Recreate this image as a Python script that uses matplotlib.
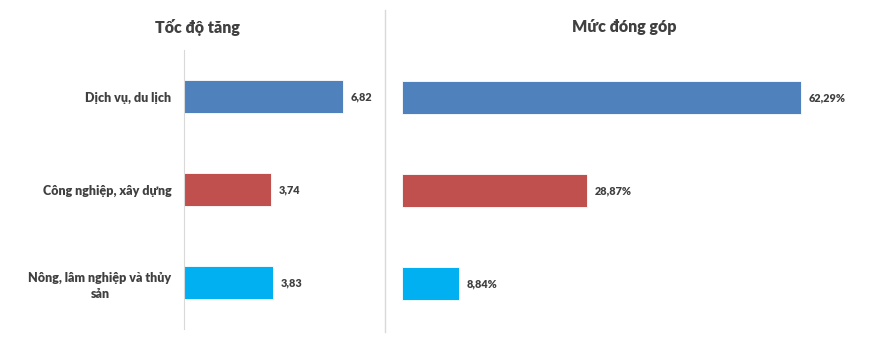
import matplotlib
matplotlib.use("Agg")
import matplotlib.pyplot as plt
from matplotlib.lines import Line2D

plt.rcParams['font.family'] = ['Lato', 'DejaVu Sans']

categories = ["Dịch vụ, du lịch", "Công nghiệp, xây dựng", "Nông, lâm nghiệp và thủy\nsản"]
growth = [6.82, 3.74, 3.83]
growth_labels = ["6,82", "3,74", "3,83"]
contribution = [62.29, 28.87, 8.84]
contribution_labels = ["62,29%", "28,87%", "8,84%"]
colors = ["#4F81BD", "#C0504D", "#00B0F0"]

W, H = 871, 348
fig = plt.figure(figsize=(W / 100, H / 100), dpi=100)
text_color = "#404040"
line_color = "#D9D9D9"
weight = 800


def px_axes(left, top, right, bottom):
    return fig.add_axes([left / W, 1 - bottom / H, (right - left) / W, (bottom - top) / H])


def draw_panel(ax, values, labels, xmax, pad):
    y = list(range(len(values)))
    ax.barh(y, values, height=0.355, color=colors, edgecolor="white", linewidth=0.6)
    ax.set_xlim(0, xmax)
    ax.set_ylim(2.5, -0.5)
    for yi, v, lab in zip(y, values, labels):
        ax.text(v + pad, yi, lab, va="center", ha="left", fontsize=7.8,
                fontweight=weight, color=text_color)
    for s in ["top", "right", "bottom"]:
        ax.spines[s].set_visible(False)
    ax.set_xticks([])
    ax.tick_params(axis="y", length=0)


ax1 = px_axes(184, 50, 380, 329)
draw_panel(ax1, growth, growth_labels, 196 / 23.3, 0.33)
ax1.spines["left"].set_color(line_color)
ax1.set_yticks(range(len(categories)))
ax1.set_yticklabels(categories, fontsize=9, fontweight=weight, color=text_color,
                    multialignment="center", linespacing=1.4)
ax1.tick_params(axis="y", pad=9)

ax2 = px_axes(402, 51, 862, 330)
draw_panel(ax2, contribution, contribution_labels, 460 / 6.41, 1.2)
ax2.spines["left"].set_visible(False)
ax2.set_yticks([])

fig.text(197 / W, 1 - 27 / H, "Tốc độ tăng", ha="center", va="center",
         fontsize=11.5, fontweight=weight, color=text_color)
fig.text(624 / W, 1 - 27 / H, "Mức đóng góp", ha="center", va="center",
         fontsize=11.5, fontweight=weight, color=text_color)

fig.add_artist(Line2D([385 / W, 385 / W], [1 - 10 / H, 1 - 332 / H],
                      transform=fig.transFigure, color=line_color, linewidth=1))

fig.savefig("out.png", dpi=100)
